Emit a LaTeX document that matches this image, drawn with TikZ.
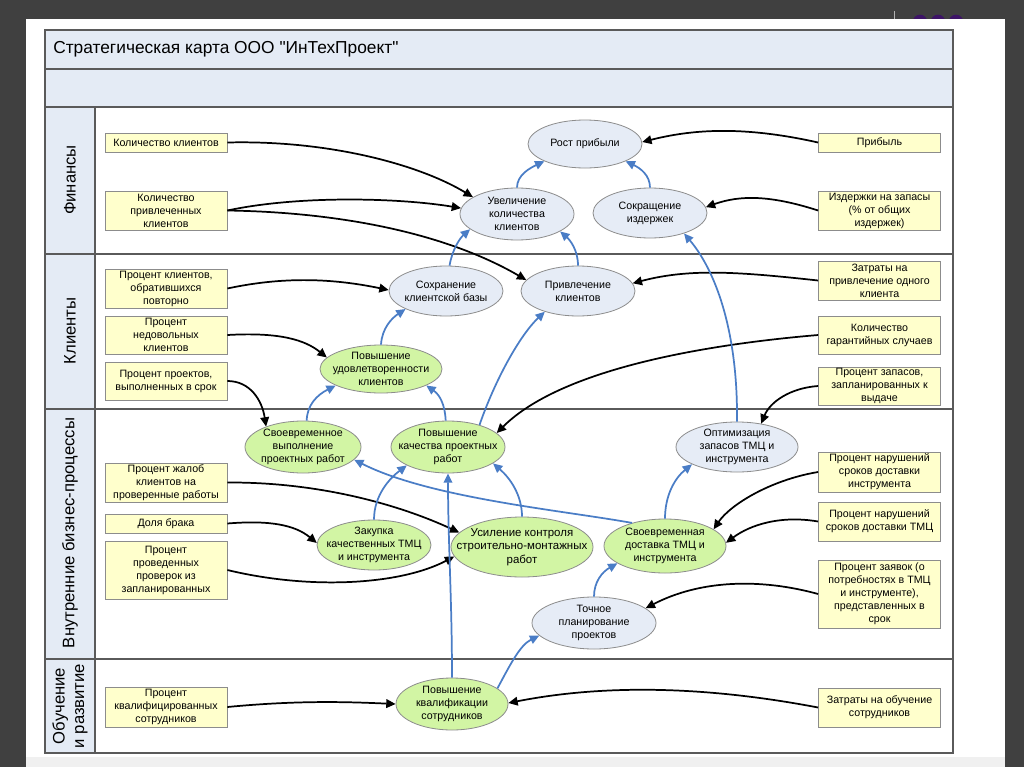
\documentclass[tikz,border=0pt]{standalone}
\usepackage{fontspec}
\setmainfont{Liberation Sans}[Ligatures=TeXOff]
\usetikzlibrary{shapes.geometric,arrows.meta}
\definecolor{bgdark}{HTML}{404040}
\definecolor{hdr}{HTML}{E4EBF5}
\definecolor{yel}{HTML}{FFFFCC}
\definecolor{ell}{HTML}{E6ECF6}
\definecolor{grn}{HTML}{D2F5A4}
\definecolor{bluel}{HTML}{4A7DC6}
\definecolor{bord}{HTML}{8C8C8C}
\definecolor{tbl}{HTML}{5A5A5A}
\definecolor{purp}{HTML}{3D1466}
\newcommand\lblfont{\fontsize{8}{9.75}\selectfont}
\begin{document}
\begin{tikzpicture}[x=0.75pt,y=-0.75pt,
  ind/.style={draw=bord, line width=0.6pt, fill=yel, minimum width=91.5pt, minimum height=#1*0.75pt, inner sep=0pt, align=center, font=\lblfont},
  obj/.style args={#1/#2}{ellipse, draw=bord, line width=0.6pt, minimum width=#1*1.5pt, minimum height=#2*1.5pt, inner sep=0pt},
  objb/.style={obj=#1, fill=ell},
  objg/.style={obj=#1, fill=grn},
  txt/.style={align=center, font=\lblfont, inner sep=0pt},
  blk/.style={draw=black, line width=1.3pt, -{Triangle[length=7pt,width=6.5pt]}},
  blu/.style={draw=bluel, line width=1.3pt, -{Triangle[length=7pt,width=6.5pt]}},
  lane/.style={rotate=90, align=center, font=\fontsize{12.5}{14.5}\selectfont, inner sep=0pt}]
\useasboundingbox (0,0) rectangle (1024,767);
% background
\fill[bgdark] (0,0) rectangle (1024,767);
\fill[purp] (920,22) circle (5.5pt) (938,22) circle (5.5pt) (956,22) circle (5.5pt);
\draw[gray!60, line width=0.6pt] (894,11) -- (894,19);
\fill[white] (26,19) rectangle (1005,767);
\fill[gray!12] (26,757) rectangle (1005,767);
% table
\fill[hdr] (45,30) rectangle (953,107);
\fill[hdr] (45,107) rectangle (95,753);
\draw[tbl, line width=0.8pt] (45,69) -- (953,69) (45,107) -- (953,107)
  (45,254) -- (953,254) (45,409) -- (953,409) (45,659) -- (953,659) (95,107) -- (95,753);
\draw[tbl, line width=1pt] (45,30) rectangle (953,753);
\node[anchor=west, inner sep=0pt, font=\fontsize{13}{15}\selectfont] (title) at (53,49) {Стратегическая карта ООО "ИнТехПроект"};
\node[lane] (lfin) at (70,180) {Финансы};
\node[lane] (lcli) at (70,331) {Клиенты};
\node[lane] (lint) at (70,533) {Внутренние бизнес-процессы};
\node[lane] (ledu) at (70,706) {Обучение\\и развитие};
% indicators
\node[ind=19] (kk) at (166,142.5) {Количество клиентов};
\node[ind=39] (kpk) at (166,210.5) {Количество\\привлеченных\\клиентов};
\node[ind=19] (prib) at (879.5,142.5) {Прибыль};
\node[ind=39] (izd) at (879.5,210.5) {Издержки на запасы\\(\% от общих\\издержек)};
\node[ind=39] (pko) at (166,288.5) {Процент клиентов,\\обратившихся\\повторно};
\node[ind=38] (pnk) at (166,335) {Процент\\недовольных\\клиентов};
\node[ind=38] (pps) at (166,381) {Процент проектов,\\выполненных в срок};
\node[ind=39] (zpk) at (879.5,280.5) {Затраты на\\привлечение одного\\клиента};
\node[ind=38] (kgs) at (879.5,335) {Количество\\гарантийных случаев};
\node[ind=38] (pzv) at (879.5,386) {Процент запасов,\\запланированных к\\выдаче};
\node[ind=39] (pzh) at (166,482.5) {Процент жалоб\\клиентов на\\проверенные работы};
\node[ind=19] (db) at (166,523.5) {Доля брака};
\node[ind=58] (ppp) at (166,570) {Процент\\проведенных\\проверок из\\запланированных};
\node[ind=40] (pni) at (879.5,472) {Процент нарушений\\сроков доставки\\инструмента};
\node[ind=39] (pnt) at (879.5,521.5) {Процент нарушений\\сроков доставки ТМЦ};
\node[ind=68] (pzs) at (879.5,594) {Процент заявок (о\\потребностях в ТМЦ\\и инструменте),\\представленных в\\срок};
\node[ind=40] (pks) at (166,707) {Процент\\квалифицированных\\сотрудников};
\node[ind=39] (zos) at (879.5,707.5) {Затраты на обучение\\сотрудников};
% objectives
\node[objb=57/24] (rp) at (585,144) {};
\node[txt] (rpt) at (rp) {Рост прибыли};
\node[objb=57/26] (uk) at (517,214) {};
\node[txt] (ukt) at (uk) {Увеличение\\количества\\клиентов};
\node[objb=57/25] (si) at (650,213) {};
\node[txt] (sit) at (si) {Сокращение\\издержек};
\node[objb=57/25] (sk) at (446,291) {};
\node[txt] (skt) at (sk) {Сохранение\\клиентской базы};
\node[objb=57/25] (pk) at (578,291) {};
\node[txt] (pkt) at (pk) {Привлечение\\клиентов};
\node[objg=61/24] (pu) at (381,369) {};
\node[txt] (put) at (pu) {Повышение\\удовлетворенности\\клиентов};
\node[objg=58/26] (sv) at (303,447) {};
\node[txt] (svt) at (sv) {Своевременное\\выполнение\\проектных работ};
\node[objg=57/26] (pq) at (448,447) {};
\node[txt] (pqt) at (pq) {Повышение\\качества проектных\\работ};
\node[objb=61/25] (oz) at (737,447) {};
\node[txt] (ozt) at (oz) {Оптимизация\\запасов ТМЦ и\\инструмента};
\node[objg=57/25] (zk) at (374,545) {};
\node[txt] (zkt) at (zk) {Закупка\\качественных ТМЦ\\и инструмента};
\node[objg=71/30] (uc) at (522,547) {};
\node[txt, font=\fontsize{8.6}{10}\selectfont] (uct) at (uc) {Усиление контроля\\строительно-монтажных\\работ};
\node[objg=61/27] (sd) at (665,546) {};
\node[txt] (sdt) at (sd) {Своевременная\\доставка ТМЦ и\\инструмента};
\node[objb=62/26] (tp) at (594,623) {};
\node[txt] (tpt) at (tp) {Точное\\планирование\\проектов};
\node[objg=56/26] (pkv) at (452,704) {};
\node[txt] (pkvt) at (pkv) {Повышение\\квалификации\\сотрудников};
% black connectors
\draw[blk] (kk.east) .. controls (330,140) and (420,165) .. (uk.159);
\draw[blk] (kpk.east) .. controls (300,195) and (400,198) .. (uk.174);
\draw[blk] (kpk.east) .. controls (330,212) and (440,230) .. (pk.168);
\draw[blk] (prib.west) .. controls (740,125) and (690,130) .. (rp.2);
\draw[blk] (izd.west) .. controls (770,195) and (740,195) .. (si.6);
\draw[blk] (pko.east) .. controls (290,275) and (340,280) .. (sk.179);
\draw[blk] (pnk.east) .. controls (280,332) and (305,340) .. (pu.168);
\draw[blk] (pps.east) .. controls (250,381) and (262,400) .. (sv.151);
\draw[blk] (zpk.west) .. controls (740,272) and (690,268) .. (pk.8);
\draw[blk] (kgs.west) .. controls (700,345) and (560,370) .. (pq.16);
\draw[blk] (pzv.west) .. controls (790,388) and (770,402) .. (oz.44);
\draw[blk] (pzh.east) .. controls (320,482) and (400,505) .. (uc.167);
\draw[blk] (db.east) .. controls (270,520) and (295,525) .. (zk.178);
\draw[blk] (ppp.east) .. controls (310,590) and (400,585) .. (uc.188);
\draw[blk] (pni.west) .. controls (770,480) and (730,505) .. (sd.19);
\draw[blk] (pnt.west) .. controls (780,515) and (750,525) .. (sd.3);
\draw[blk] (pzs.west) .. controls (760,578) and (700,580) .. (tp.16);
\draw[blk] (pks.east) .. controls (300,700) and (350,702) .. (pkv.180);
\draw[blk] (zos.west) .. controls (700,685) and (600,685) .. (pkv.1);
% blue connectors
\draw[blu] (uk.north) .. controls (517,175) and (530,168) .. (rp.203);
\draw[blu] (si.north) .. controls (650,175) and (640,168) .. (rp.337);
\draw[blu] (sk.82) .. controls (452,250) and (460,238) .. (uk.198);
\draw[blu] (pk.north) .. controls (578,250) and (570,240) .. (uk.338);
\draw[blu] (oz.north) .. controls (738,330) and (715,270) .. (si.329);
\draw[blu] (pu.north) .. controls (382,328) and (392,318) .. (sk.204);
\draw[blu] (sv.82) .. controls (307,405) and (317,395) .. (pu.200);
\draw[blu] (pq.95) .. controls (445,405) and (440,395) .. (pu.340);
\draw[blu] (pq.35) .. controls (495,380) and (520,335) .. (pk.212);
\draw[blu] (zk.north) .. controls (374,495) and (390,478) .. (pq.204);
\draw[blu] (pkv.north) .. controls (452,600) and (448,540) .. (pq.south);
\draw[blu] (uc.north) .. controls (522,495) and (510,478) .. (pq.340);
\draw[blu] (sd.145) .. controls (560,510) and (430,498) .. (sv.346);
\draw[blu] (sd.north) .. controls (665,495) and (675,478) .. (oz.201);
\draw[blu] (tp.north) .. controls (594,582) and (602,572) .. (sd.200);
\draw[blu] (pkv.19) .. controls (510,665) and (520,645) .. (tp.193);
\end{tikzpicture}
\end{document}
